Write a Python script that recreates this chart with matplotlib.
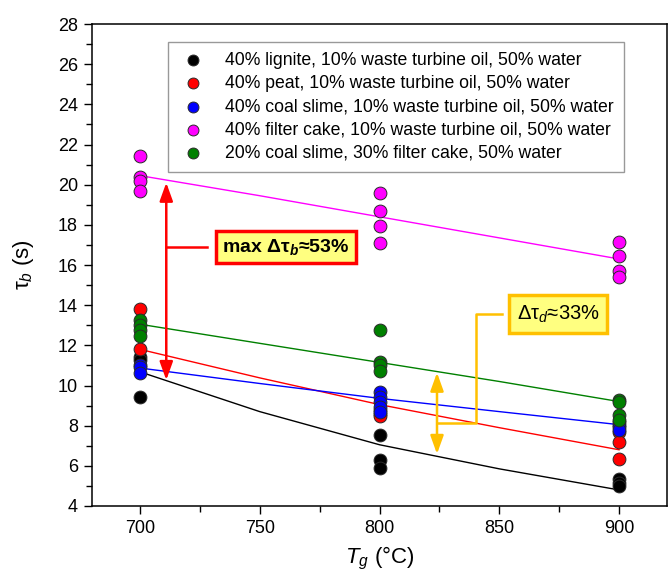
import matplotlib
matplotlib.use("Agg")
import matplotlib.pyplot as plt

plt.rcParams["font.family"] = ["Liberation Sans", "DejaVu Sans"]
plt.rcParams["mathtext.fontset"] = "custom"
plt.rcParams["mathtext.rm"] = "Liberation Sans"
plt.rcParams["mathtext.it"] = "Liberation Sans:italic"
plt.rcParams["mathtext.bf"] = "Liberation Sans:bold"
plt.rcParams["mathtext.bfit"] = "Liberation Sans:italic:bold"

# Gasification temperatures
temps = [700, 800, 900]

# Measured burning times (s) for each fuel, grouped by temperature
lignite_pts = [[11.4, 11.25, 9.45], [7.55, 6.3, 5.9], [5.35, 5.15, 5.0]]
peat_pts = [[13.8, 11.8], [8.8, 8.6, 8.5], [7.7, 7.2, 6.35]]
slime_pts = [[11.0, 10.9, 10.6], [9.7, 9.45, 9.2, 8.95, 8.7], [8.2, 8.05, 7.95, 7.8]]
cake_pts = [[21.45, 20.4, 20.2, 19.7], [19.6, 18.7, 17.95, 17.1], [17.15, 16.45, 15.7, 15.4]]
mix_pts = [[13.25, 13.0, 12.75, 12.45], [12.75, 11.15, 11.0, 10.7], [9.3, 9.2, 8.55, 8.3]]

# Trend curves
fit_temps = [700, 750, 800, 850, 900]
lignite_fit = [10.68, 8.7, 7.05, 5.85, 4.8]
peat_fit = [11.8, 10.38, 9.05, 7.9, 6.8]
slime_fit = [10.87, 10.1, 9.36, 8.7, 8.05]
cake_fit = [20.45, 19.45, 18.4, 17.35, 16.3]
mix_fit = [13.05, 12.1, 11.15, 10.2, 9.2]

labels = [
    "40% lignite, 10% waste turbine oil, 50% water",
    "40% peat, 10% waste turbine oil, 50% water",
    "40% coal slime, 10% waste turbine oil, 50% water",
    "40% filter cake, 10% waste turbine oil, 50% water",
    "20% coal slime, 30% filter cake, 50% water",
]
colors = ["#000000", "#ff0000", "#0000ff", "#ff00ff", "#008000"]
series_pts = [lignite_pts, peat_pts, slime_pts, cake_pts, mix_pts]
series_fit = [lignite_fit, peat_fit, slime_fit, cake_fit, mix_fit]

# Annotated spreads
max_tau_b = (20.1, 10.27)
tau_d_range = (10.64, 6.59)

fig = plt.figure(figsize=(6.69, 5.79), dpi=100)
ax = fig.add_axes([92 / 669, 73 / 579, 575 / 669, 482 / 579])

for fit, c in zip(series_fit, colors):
    ax.plot(fit_temps, fit, color=c, lw=1.0, zorder=2)

for pts, c, lab in zip(series_pts, colors, labels):
    xs, ys = [], []
    for t, vals in zip(temps, pts):
        xs += [t] * len(vals)
        ys += vals
    ax.scatter(xs, ys, s=85, color=c, edgecolors="#2a2a2a", linewidths=0.7,
               zorder=3, label=lab)

arrow_style = "<|-|>,head_length=0.5,head_width=0.18"

# Red double arrow: spread of burning time at 700 °C
ax.annotate("", xy=(711, max_tau_b[0]), xytext=(711, max_tau_b[1]),
            arrowprops=dict(arrowstyle=arrow_style, color="#ff0000", lw=1.8,
                            mutation_scale=22, shrinkA=0, shrinkB=0),
            zorder=4)
mid_b = 16.9
ax.plot([711, 728], [mid_b, mid_b], color="#ff0000", lw=1.8, zorder=4)
ax.text(761, mid_b, r"max Δτ$_{\mathbfit{b}}$≈53%", fontsize=14, fontweight="bold",
        ha="center", va="center", zorder=5,
        bbox=dict(boxstyle="square,pad=0.32", fc="#ffff80", ec="#ff0000", lw=2.5))

# Orange double arrow: spread at 825 °C
ax.annotate("", xy=(824, tau_d_range[0]), xytext=(824, tau_d_range[1]),
            arrowprops=dict(arrowstyle=arrow_style, color="#ffc000", lw=1.8,
                            mutation_scale=22, shrinkA=0, shrinkB=0),
            zorder=4)
ax.plot([824, 840.3, 840.3, 851], [8.14, 8.14, 13.56, 13.56],
        color="#ffc000", lw=1.8, zorder=4)
ax.text(874.5, 13.56, r"Δτ$_{d}$≈33%", fontsize=14.5,
        ha="center", va="center", zorder=5,
        bbox=dict(boxstyle="square,pad=0.4", fc="#ffff80", ec="#ffc000", lw=2.5))

ax.set_xlim(680, 920)
ax.set_ylim(4, 28)
ax.set_xticks([700, 750, 800, 850, 900])
ax.set_xticks(range(700, 925, 25), minor=True)
ax.set_yticks(range(4, 29, 2))
ax.set_yticks(range(4, 29, 1), minor=True)
ax.tick_params(which="major", direction="out", length=6, width=1, labelsize=13,
               pad=4, top=False, right=False)
ax.tick_params(which="minor", direction="out", length=4, width=1,
               top=False, right=False)
for sp in ax.spines.values():
    sp.set_linewidth(1.1)

ax.set_xlabel(r"$T_g$ (°C)", fontsize=16, labelpad=6)
ax.set_ylabel(r"τ$_b$ (s)", fontsize=16, labelpad=16)

leg = ax.legend(loc="upper left", bbox_to_anchor=(0.132, 0.963), fontsize=12.7,
                frameon=True, fancybox=False, edgecolor="#808080",
                handletextpad=0.9, borderpad=0.55, labelspacing=0.36,
                handlelength=1.8, borderaxespad=0, scatterpoints=1,
                markerscale=0.85)
leg.get_frame().set_linewidth(1.0)

fig.savefig("out.png", dpi=100)
